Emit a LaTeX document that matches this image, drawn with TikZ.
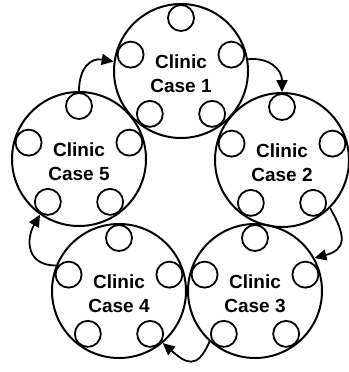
\documentclass[tikz,border=0pt]{standalone}
\usepackage{fontspec}
\setmainfont{Liberation Sans}
\usetikzlibrary{arrows.meta}

\begin{document}
\begin{tikzpicture}[x=1pt, y=1pt,
  case/.style={draw, circle, line width=2pt, minimum size=134pt, inner sep=0pt, align=center, font=\fontsize{19}{24}\selectfont\bfseries},
  hole/.style={draw, circle, line width=1.8pt, minimum size=26pt, inner sep=0pt},
  arr/.style={-{Triangle[length=12pt, width=11pt]}, line width=1.8pt}
]
\useasboundingbox (0,0) rectangle (348,-372);
% five clinic cases, each with five holes
\foreach \n/\x/\y in {1/181/-71, 2/282/-160, 3/255/-291, 4/119/-291, 5/79/-159}{
  \node[case] (c\n) at (\x,\y) {\rule{0pt}{20pt}Clinic\\Case \n};
  \foreach \a in {18,90,162,234,306}
    \path (c\n.center) ++(\a:53) node[hole] (h\n-\a) {};
}
% rotation arrows
\draw[arr] (c5.90) to[out=90, in=170, looseness=1.3] (c1.172);
\draw[arr] (c1.10) to[out=5, in=90, looseness=1.2] (c2.90);
\draw[arr] (c2.-45) to[out=-60, in=15, looseness=1.6] (c3.29);
\draw[arr] (c3.-132) to[out=-113, in=-41, looseness=1.7] (c4.-50);
\draw[arr] (c4.158) to[out=180, in=-120, looseness=1.4] (c5.235);
\end{tikzpicture}
\end{document}
